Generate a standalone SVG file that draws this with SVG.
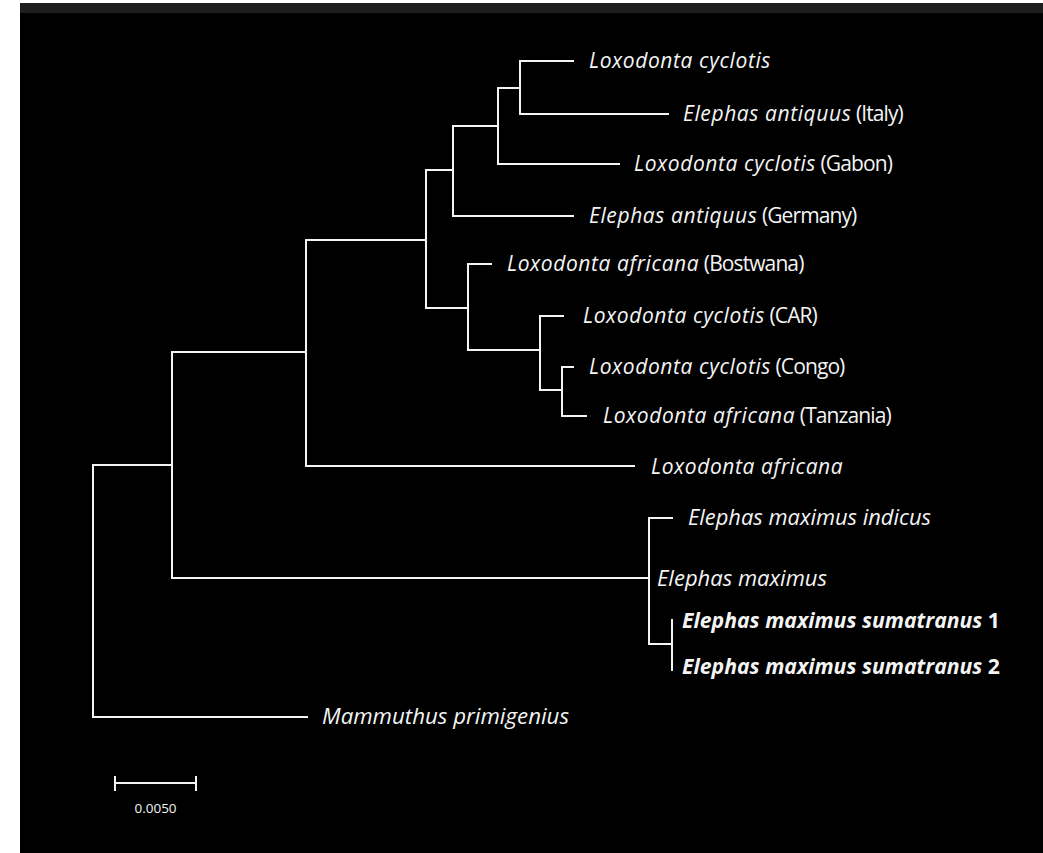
<svg xmlns="http://www.w3.org/2000/svg" width="1043" height="853" viewBox="0 0 1043 853">
<style>
.lbl{font-family:"Open Sans","Liberation Sans",sans-serif;font-size:21px;fill:#f4f4f4}
.it{font-style:italic}
.bd{font-weight:bold}
.wi{letter-spacing:0.6px}
.up{letter-spacing:-0.9px}
.tree{stroke:#f4f4f4;stroke-width:2;fill:none;stroke-linecap:square}
.scl{font-family:"Open Sans","Liberation Sans",sans-serif;font-size:13.5px;fill:#f4f4f4}
</style>
<rect x="0" y="0" width="1043" height="853" fill="#ffffff"/>
<rect x="20" y="3" width="1023" height="850" fill="#000000"/>
<rect x="20" y="3" width="1023" height="10" fill="#1e1e1e"/>
<g id="connectors" class="tree">
<path d="M520 61V114M520 61H573M520 114H668"/>
<path d="M498 88V164M498 88H520M498 164H619"/>
<path d="M453 126V216M453 126H498M453 216H573"/>
<path d="M468 264V350M468 264H491M468 350H540"/>
<path d="M540 316V390M540 316H563M540 390H562"/>
<path d="M562 367V416M562 367H573M562 416H586"/>
<path d="M426 170V308M426 170H453M426 308H468"/>
<path d="M306 240V466M306 240H426M306 466H634"/>
<path d="M649 518V644M649 518H672M649 644H672M172 578H649"/>
<path d="M672 620V670"/>
<path d="M172 352V578M172 352H306"/>
<path d="M93 465V717M93 465H172M93 717H307"/>
</g>
<g id="n1"><text class="lbl" x="589" y="68"><tspan class="it wi">Loxodonta cyclotis</tspan></text></g>
<g id="n2"><text class="lbl" x="683" y="121"><tspan class="it wi">Elephas antiquus</tspan><tspan class="up"> (Italy)</tspan></text></g>
<g id="n3"><text class="lbl" x="634" y="171"><tspan class="it wi">Loxodonta cyclotis</tspan><tspan class="up"> (Gabon)</tspan></text></g>
<g id="n4"><text class="lbl" x="589" y="223"><tspan class="it wi">Elephas antiquus</tspan><tspan class="up"> (Germany)</tspan></text></g>
<g id="n5"><text class="lbl" x="507" y="271"><tspan class="it wi">Loxodonta africana</tspan><tspan class="up"> (Bostwana)</tspan></text></g>
<g id="n6"><text class="lbl" x="583" y="323"><tspan class="it wi">Loxodonta cyclotis</tspan><tspan class="up"> (CAR)</tspan></text></g>
<g id="n7"><text class="lbl" x="589" y="374"><tspan class="it wi">Loxodonta cyclotis</tspan><tspan class="up"> (Congo)</tspan></text></g>
<g id="n8"><text class="lbl" x="603" y="423"><tspan class="it wi">Loxodonta africana</tspan><tspan class="up"> (Tanzania)</tspan></text></g>
<g id="n9"><text class="lbl" x="651" y="474"><tspan class="it wi">Loxodonta africana</tspan></text></g>
<g id="n10"><text class="lbl it" x="688" y="525" textLength="243" lengthAdjust="spacingAndGlyphs">Elephas maximus indicus</text></g>
<g id="n11"><text class="lbl it" x="657" y="586" textLength="170" lengthAdjust="spacingAndGlyphs">Elephas maximus</text></g>
<g id="n12"><text class="lbl bd" x="682" y="628" textLength="318" lengthAdjust="spacingAndGlyphs"><tspan class="it">Elephas maximus sumatranus</tspan> 1</text></g>
<g id="n13"><text class="lbl bd" x="682" y="674" textLength="318" lengthAdjust="spacingAndGlyphs"><tspan class="it">Elephas maximus sumatranus</tspan> 2</text></g>
<g id="n14"><text class="lbl it" x="322" y="724" textLength="247" lengthAdjust="spacingAndGlyphs">Mammuthus primigenius</text></g>
<g id="scale">
<path class="tree" d="M115 783H196M115 777V790M196 777V790"/>
<text class="scl" x="155.5" y="813" text-anchor="middle">0.0050</text>
</g>
</svg>
